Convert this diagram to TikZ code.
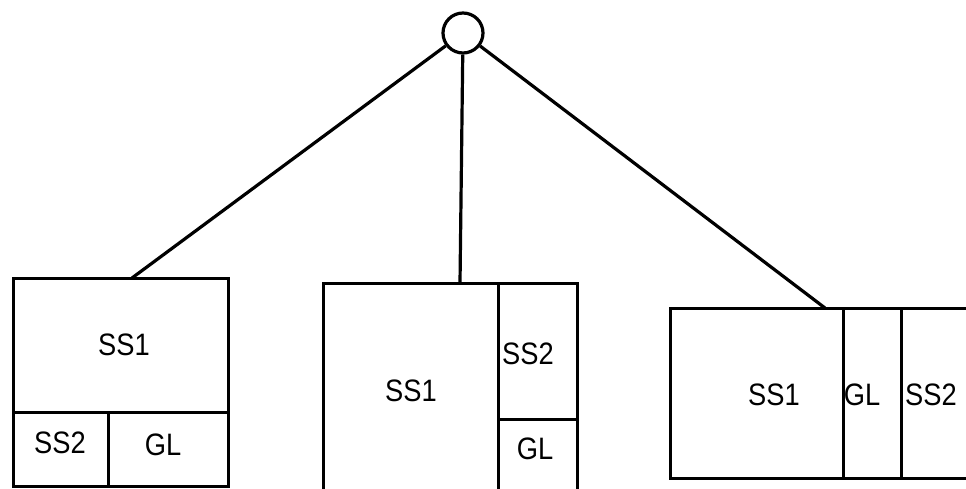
\documentclass[tikz,border=0pt]{standalone}
\usepackage{fontspec}
\setmainfont{Liberation Sans}[FakeStretch=0.88]
\usetikzlibrary{fit}
\begin{document}
\begin{tikzpicture}[x=1pt,y=-1pt,
  cell/.style={draw, line width=3pt, rectangle, inner sep=0pt},
  link/.style={line width=3.2pt},
  root/.style={draw, circle, line width=3.2pt, minimum size=40pt, inner sep=0pt},
  lbl/.style={font=\fontsize{31}{31}\selectfont, inner sep=0pt}]
\useasboundingbox (0,0) rectangle (966,489);
\clip (0,0) rectangle (966,489);

% root of the three alternatives
\node[root] (c) at (463,33) {};

% layout 1: SS1 on top, SS2 and GL below
\node[cell, fit={(13,278)(228,412)}] (a1) {};
\node[cell, fit={(13,412)(108,486)}] (a2) {};
\node[cell, fit={(108,412)(228,486)}] (a3) {};
\node[lbl] (la1) at (124,345) {SS1};
\node[lbl] (la2) at (60,443) {SS2};
\node[lbl] (la3) at (163,445) {GL};

% layout 2: SS1 on the left, SS2 over GL on the right
\node[cell, fit={(323,283)(498,500)}] (b1) {};
\node[cell, fit={(498,283)(577,419)}] (b2) {};
\node[cell, fit={(498,419)(577,500)}] (b3) {};
\node[lbl] (lb1) at (411,391) {SS1};
\node[lbl] (lb2) at (528,354) {SS2};
\node[lbl] (lb3) at (535,449) {GL};

% layout 3: SS1, GL and SS2 side by side
\node[cell, fit={(670,308)(843,478)}] (d1) {};
\node[cell, fit={(843,308)(901,478)}] (d2) {};
\node[cell, fit={(901,308)(980,478)}] (d3) {};
\node[lbl] (ld1) at (774,395) {SS1};
\node[lbl] (ld2) at (862,395) {GL};
\node[lbl] (ld3) at (931,395) {SS2};

% connectors from the root to each layout
\coordinate (t1) at (132,278);
\coordinate (t2) at (460,283);
\coordinate (t3) at (825,308);
\draw[link] (c) -- (t1);
\draw[link] (c) -- (t2);
\draw[link] (c) -- (t3);
\end{tikzpicture}
\end{document}
